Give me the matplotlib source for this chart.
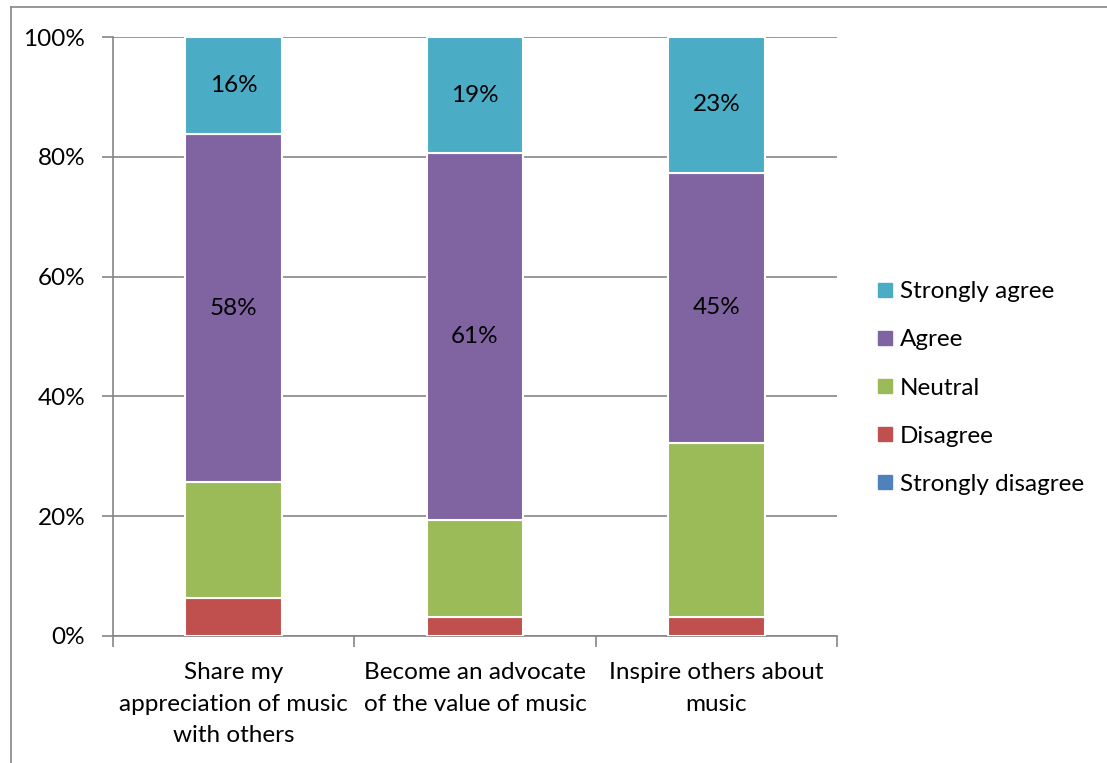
import matplotlib.pyplot as plt
from matplotlib.lines import Line2D
import numpy as np

plt.rcParams['font.family'] = ['Lato', 'DejaVu Sans']

categories = ['Share my\nappreciation of music\nwith others',
              'Become an advocate\nof the value of music',
              'Inspire others about\nmusic']
levels = ['Strongly disagree', 'Disagree', 'Neutral', 'Agree', 'Strongly agree']
strongly_disagree = [0.0, 0.0, 0.0]
disagree = [6.3, 3.2, 3.2]
neutral = [19.4, 16.1, 29.1]
agree = [58.1, 61.3, 45.0]
strongly_agree = [16.2, 19.4, 22.7]
colors = ['#4F81BD', '#C0504D', '#9BBB59', '#8064A2', '#4BACC6']

series = [strongly_disagree, disagree, neutral, agree, strongly_agree]
fs = 17.5

fig = plt.figure(figsize=(11.07, 7.63), dpi=100)
ax = fig.add_axes([113/1107, 1-636/763, 724/1107, 599/763])

x = np.arange(len(categories))
bottom = np.zeros(len(categories))
handles = []
for name, vals, col in zip(levels, series, colors):
    vals = np.array(vals)
    ax.bar(x, vals, 0.4, bottom=bottom, color=col, edgecolor='white',
           linewidth=1.5, label=name, zorder=3)
    if name in ('Agree', 'Strongly agree'):
        for xi, b, v in zip(x, bottom, vals):
            ax.text(xi, b + v / 2, f'{v:.0f}%', ha='center', va='center',
                    fontsize=fs, color='black', zorder=4)
    bottom += vals
    handles.append(Line2D([], [], marker='s', linestyle='none', markersize=9.5,
                          markerfacecolor=col, markeredgecolor=col, label=name))

ax.set_xlim(-0.5, 2.5)
ax.set_ylim(0, 100)
ax.set_yticks(range(0, 101, 20))
ax.set_yticklabels([f'{v}%' for v in range(0, 101, 20)], fontsize=fs)
ax.yaxis.grid(True, color='#868686', linewidth=1.2, zorder=0)
ax.set_xticks(x)
ax.set_xticklabels(categories, fontsize=fs, linespacing=1.62)
ax.set_xticks([-0.5, 0.5, 1.5, 2.5], minor=True)
ax.tick_params(axis='x', which='major', length=0, pad=19)
ax.tick_params(axis='x', which='minor', length=8, color='#868686', width=1.2)
ax.tick_params(axis='y', length=8, color='#868686', width=1.2, pad=12)
for s in ['top', 'right']:
    ax.spines[s].set_visible(False)
for s in ['left', 'bottom']:
    ax.spines[s].set_color('#868686')
    ax.spines[s].set_linewidth(1.2)

ax.legend(handles=handles[::-1], loc='center left', bbox_to_anchor=(1.025, 0.414),
          frameon=False, fontsize=fs, labelspacing=1.12, handletextpad=0.25,
          handlelength=0.7)

# outer chart border (top and left visible)
fig.add_artist(Line2D([11/1107, 1], [1-7/763, 1-7/763], color='#868686', linewidth=1.2))
fig.add_artist(Line2D([11/1107, 11/1107], [0, 1-7/763], color='#868686', linewidth=1.2))

fig.savefig('out.png', dpi=100)
